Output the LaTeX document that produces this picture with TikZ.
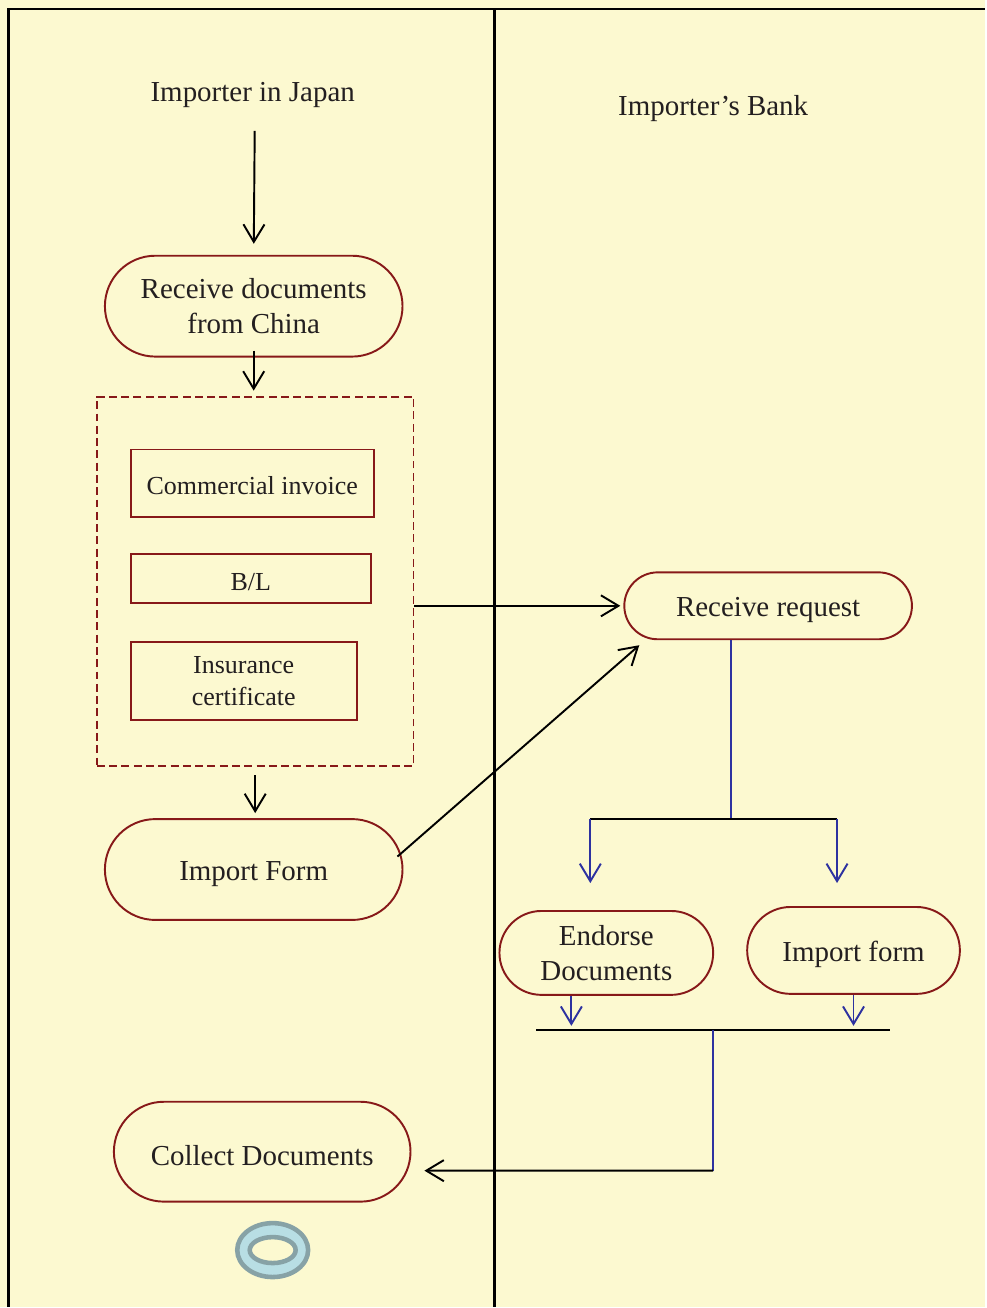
\documentclass[tikz,border=0pt]{standalone}
\usepackage{fontspec}
\setmainfont{Liberation Serif}
\usetikzlibrary{shapes.misc,shapes.geometric,arrows.meta}
\definecolor{paper}{RGB}{252,249,208}
\definecolor{actred}{RGB}{135,25,25}
\definecolor{flowblue}{RGB}{45,50,160}
\definecolor{inkgray}{RGB}{35,31,32}
\definecolor{ringgray}{RGB}{135,162,166}
\definecolor{ringblue}{RGB}{184,222,228}
\begin{document}
\begin{tikzpicture}[x=0.02cm,y=-0.02cm,
	action/.style={rounded rectangle,draw=actred,line width=1.1pt,text=inkgray,font=\fontsize{16.5}{20}\selectfont,align=center,inner sep=0pt,execute at begin node={\rule{0pt}{0.95em}}},
	docbox/.style={rectangle,draw=actred,line width=1.1pt,text=inkgray,font=\fontsize{14.8}{18}\selectfont,align=center,inner sep=0pt,execute at begin node={\rule{0pt}{0.87em}}},
	arr/.style={-{Straight Barb[length=10pt,width=12pt]},line width=1.1pt},
	barr/.style={arr,draw=flowblue},
	lane/.style={line width=1.7pt}]
		\fill[paper] (0,0) rectangle (986,1308);
		\draw[lane] (986,9) -- (9,9) -- (9,1308);
		\draw[lane] (495,9) -- (495,1308);
		\node[text=inkgray,font=\fontsize{16.5}{20}\selectfont] (japan) at (253,95) {Importer in Japan};
		\node[text=inkgray,font=\fontsize{16.5}{20}\selectfont] (bank) at (714,109) {Importer’s Bank};
		\node[action,minimum width=5.96cm,minimum height=2.02cm] (recv) at (254,306.5) {Receive documents\\from China};
		\node[draw=actred,dash pattern=on 4.5pt off 2.5pt,line width=1.1pt,minimum width=6.34cm,minimum height=7.4cm,inner sep=0pt] (docs) at (255.5,582) {};
		\node[docbox,minimum width=4.86cm,minimum height=1.36cm] (inv) at (252.5,484) {Commercial invoice};
		\node[docbox,minimum width=4.8cm,minimum height=0.98cm] (bl) at (251,579.5) {B/L};
		\node[docbox,minimum width=4.52cm,minimum height=1.56cm] (ins) at (244,682) {Insurance\\certificate};
		\node[action,minimum width=5.96cm,minimum height=2.02cm] (impf) at (254,870.5) {Import Form};
		\node[action,minimum width=5.94cm,minimum height=2.0cm] (collect) at (262.5,1153) {Collect Documents};
		\node[action,minimum width=5.76cm,minimum height=1.34cm] (rreq) at (769,606.5) {Receive request};
		\node[action,minimum width=4.28cm,minimum height=1.68cm] (endorse) at (607,954) {Endorse\\Documents};
		\node[action,minimum width=4.26cm,minimum height=1.74cm] (impform) at (854.5,951.5) {Import form};
		\node[ellipse,draw=ringgray,fill=ringblue,line width=2.6pt,minimum width=1.42cm,minimum height=1.08cm,inner sep=0pt] (stop) at (273,1251.5) {};
		\node[ellipse,draw=ringgray,fill=paper,line width=2.6pt,minimum width=0.92cm,minimum height=0.52cm,inner sep=0pt] (stophole) at (stop) {};
		\coordinate (src) at (255,131);
		\draw[arr,shorten >=0.22cm] (src) -- (recv.north);
		\draw[arr,shorten <=-0.14cm,shorten >=0.1cm] (recv.south) -- (recv.south |- docs.north);
		\draw[arr,shorten <=0.16cm,shorten >=0.1cm] (docs.south) -- (docs.south |- impf.north);
		\draw[arr,shorten >=0.06cm] (docs.east |- rreq.west) -- (rreq.west);
		\draw[arr] ([xshift=-0.12cm,yshift=0.26cm]impf.east) -- ([xshift=-2.58cm,yshift=-0.1cm]rreq.south);
		\coordinate (fork) at (732,820);
		\coordinate (forkL) at (591,820);
		\coordinate (forkR) at (838,820);
		\draw[flowblue,line width=1.1pt] (rreq.south -| fork) -- (fork);
		\draw[line width=1.1pt] (forkL) -- (forkR);
		\draw[barr,shorten >=0.54cm] (forkL) -- (forkL |- endorse.north);
		\draw[barr,shorten >=0.46cm] (forkR) -- (forkR |- impform.north);
		\coordinate (joinL) at (537,1031);
		\coordinate (joinR) at (891,1031);
		\coordinate (join) at (714,1031);
		\coordinate (turn) at (714,1172);
		\draw[line width=1.1pt] (joinL) -- (joinR);
		\draw[barr,shorten >=0.08cm] ([xshift=-0.7cm]endorse.south) -- ([xshift=-0.7cm]endorse.south |- joinL);
		\draw[barr,shorten >=0.08cm] (impform.south) -- (impform.south |- joinR);
		\draw[flowblue,line width=1.1pt] (join) -- (turn);
		\draw[arr,shorten >=0.26cm] (turn) -- ([yshift=-0.38cm]collect.east);
	\end{tikzpicture}
\end{document}
